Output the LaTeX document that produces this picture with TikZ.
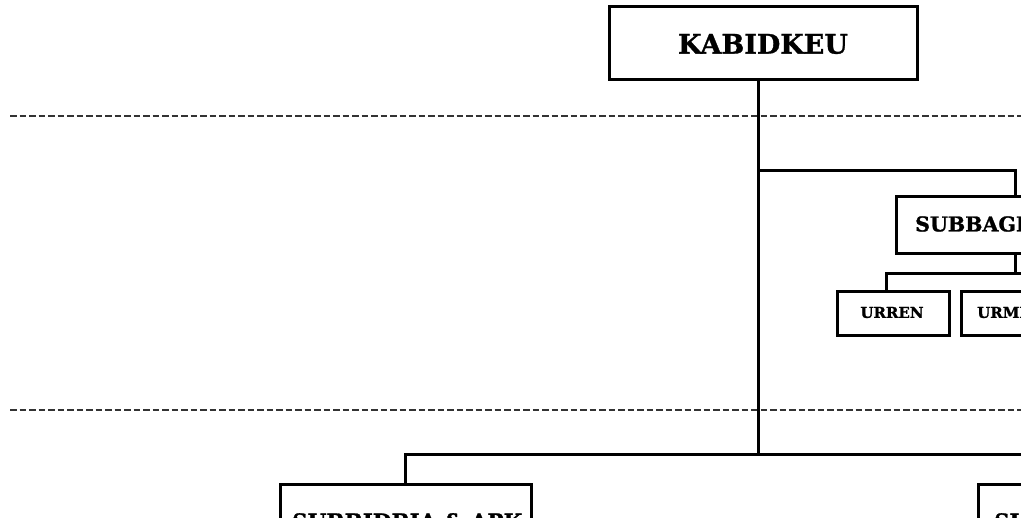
\documentclass[tikz,border=0pt]{standalone}
\usepackage{fontspec}
\setmainfont[BoldFeatures={FakeBold=1.2}]{DejaVu Serif}
\begin{document}
\begin{tikzpicture}[x=1pt,y=-1pt,
  orgbox/.style={draw=black, line width=3pt, fill=white, inner sep=0pt},
  conn/.style={draw=black, line width=3pt, line cap=rect},
  sep/.style={draw=black!80, line width=1.8pt, dash pattern=on 6.5pt off 3pt},
  bigtext/.style={font=\bfseries\fontsize{27}{30}\selectfont},
  midtext/.style={font=\bfseries\fontsize{20.5}{24}\selectfont},
  lowtext/.style={font=\bfseries\fontsize{21.5}{24}\selectfont},
  smalltext/.style={font=\bfseries\fontsize{15}{18}\selectfont}]
\clip (0,0) rectangle (1021,518);
\fill[white] (0,0) rectangle (1021,518);
% separators
\coordinate (s1a) at (10,116); \coordinate (s1b) at (1030,116);
\coordinate (s2a) at (10,410); \coordinate (s2b) at (1030,410);
\draw[sep] (s1a) -- (s1b);
\draw[sep] (s2a) -- (s2b);
% boxes
\node[orgbox, minimum width=308pt, minimum height=73pt] (kab) at (763,43.5) {};
\node[bigtext] (kabt) at (763,44) {KABIDKEU};
\node[orgbox, anchor=north west, minimum width=240pt, minimum height=57pt] (subbag) at (895,195) {};
\node[midtext, anchor=west, inner sep=0pt] (subbagt) at (915,224) {SUBBAGRENMIN};
\node[orgbox, anchor=north west, minimum width=112pt, minimum height=44pt] (urren) at (836,290) {};
\node[smalltext] (urrent) at (892,312.5) {URREN};
\node[orgbox, anchor=north west, minimum width=112pt, minimum height=44pt] (urmin) at (960,290) {};
\node[smalltext, anchor=west, inner sep=0pt] (urmint) at (977,312.5) {URMINTU};
\node[orgbox, anchor=north west, minimum width=251pt, minimum height=80pt] (subbid) at (279,483) {};
\node[lowtext, anchor=north west, inner sep=0pt] (subbidt) at (292,513) {SUBBIDBIA \& APK};
\node[orgbox, anchor=north west, minimum width=251pt, minimum height=80pt] (subbid2) at (977,483) {};
\node[lowtext, anchor=north west, inner sep=0pt] (subbid2t) at (994,513) {SUBBIDLAKGAR};
% connectors
\coordinate (t1) at (758,171);
\coordinate (t2) at (758,455);
\coordinate (r1) at (1015,171);
\coordinate (r2) at (1015,274);
\coordinate (u1) at (886,274);
\coordinate (ue) at (1030,274);
\coordinate (b1) at (405,455);
\coordinate (be) at (1030,455);
\draw[conn] (kab.south -| t1) -- (t2);
\draw[conn] (t1) -- (r1) -- (subbag.north -| r1);
\draw[conn] (subbag.south -| r2) -- (r2);
\draw[conn] (ue) -- (u1) -- (urren.north -| u1);
\draw[conn] (be) -- (b1) -- (subbid.north -| b1);
\end{tikzpicture}
\end{document}
